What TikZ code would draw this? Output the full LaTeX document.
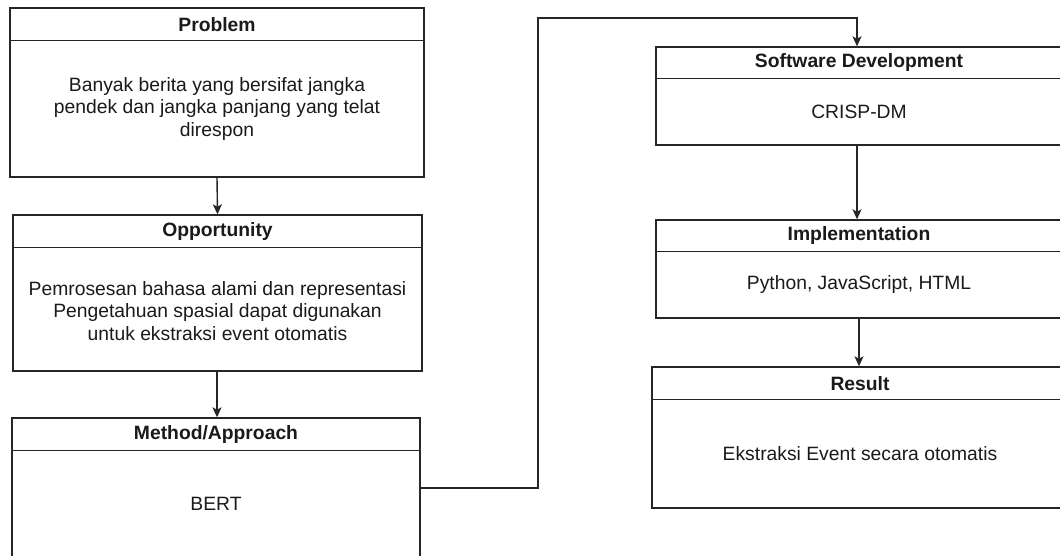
\documentclass[tikz,border=0pt]{standalone}
\usepackage{fontspec}
\setmainfont{Liberation Sans}
\usetikzlibrary{arrows.meta}
\definecolor{edge}{HTML}{262626}
\definecolor{ink}{HTML}{1A1A1A}
\tikzset{
  lane/.style={draw=edge, line width=1.4pt, fill=white, rectangle, inner sep=0pt},
  divider/.style={draw=edge, line width=1.3pt},
  lanetitle/.style={font=\fontsize{19.3pt}{22pt}\selectfont\bfseries, text=ink, inner sep=0pt},
  lanebody/.style={font=\fontsize{19.3pt}{22.5pt}\selectfont, text=ink, align=center, inner sep=0pt},
  flow/.style={draw=edge, line width=1.4pt, -{Stealth[length=10pt,width=9pt,inset=2.5pt]}},
}
\begin{document}
\begin{tikzpicture}[x=1pt, y=-1pt]
\useasboundingbox (0,0) rectangle (1060,555);
\clip (0,0) rectangle (1060,555);
\fill[white] (0,0) rectangle (1060,555);

% left column
\node[lane, minimum width=414pt, minimum height=169pt] (prob) at (217,92.5) {};
\draw[divider] ([yshift=-33pt]prob.north west) -- ([yshift=-33pt]prob.north east);
\node[lanetitle] (probT) at ([yshift=-17pt]prob.north) {Problem};
\node[lanebody] (probB) at (217,109) {Banyak berita yang bersifat jangka\\pendek dan jangka panjang yang telat\\direspon};

\node[lane, minimum width=409pt, minimum height=156pt] (opp) at (217.5,293) {};
\draw[divider] ([yshift=-33pt]opp.north west) -- ([yshift=-33pt]opp.north east);
\node[lanetitle] (oppT) at ([yshift=-17pt]opp.north) {Opportunity};
\node[lanebody] (oppB) at (217.5,311) {Pemrosesan bahasa alami dan representasi\\Pengetahuan spasial dapat digunakan\\untuk ekstraksi event otomatis};

\node[lane, minimum width=408pt, minimum height=142pt] (meth) at (216,489) {};
\draw[divider] ([yshift=-33pt]meth.north west) -- ([yshift=-33pt]meth.north east);
\node[lanetitle] (methT) at ([yshift=-17pt]meth.north) {Method/Approach};
\node[lanebody] (methB) at (216,504) {BERT};

% right column
\node[lane, minimum width=406pt, minimum height=98pt] (soft) at (859,96) {};
\draw[divider] ([yshift=-32pt]soft.north west) -- ([yshift=-32pt]soft.north east);
\node[lanetitle] (softT) at ([yshift=-16.5pt]soft.north) {Software Development};
\node[lanebody] (softB) at (859,112) {CRISP-DM};

\node[lane, minimum width=406pt, minimum height=98pt] (impl) at (859,269) {};
\draw[divider] ([yshift=-32pt]impl.north west) -- ([yshift=-32pt]impl.north east);
\node[lanetitle] (implT) at ([yshift=-16.5pt]impl.north) {Implementation};
\node[lanebody] (implB) at (859,285) {Python, JavaScript, HTML};

\node[lane, minimum width=416pt, minimum height=141pt] (res) at (860,437.5) {};
\draw[divider] ([yshift=-33pt]res.north west) -- ([yshift=-33pt]res.north east);
\node[lanetitle] (resT) at ([yshift=-17pt]res.north) {Result};
\node[lanebody] (resB) at (860,454) {Ekstraksi Event secara otomatis};

% connectors
\coordinate (m1) at (538,488);
\coordinate (m2) at (538,18);
\coordinate (m3) at (857,18);
\draw[flow] (prob.south) -- (opp.north);
\draw[flow] (opp.south -| prob.south) -- (meth.north -| prob.south);
\draw[flow] (meth.east |- m1) -- (m1) -- (m2) -- (m3) -- (soft.north -| m3);
\draw[flow] (soft.south -| m3) -- (impl.north -| m3);
\draw[flow] (impl.south) -- (res.north -| impl.south);
\end{tikzpicture}
\end{document}
